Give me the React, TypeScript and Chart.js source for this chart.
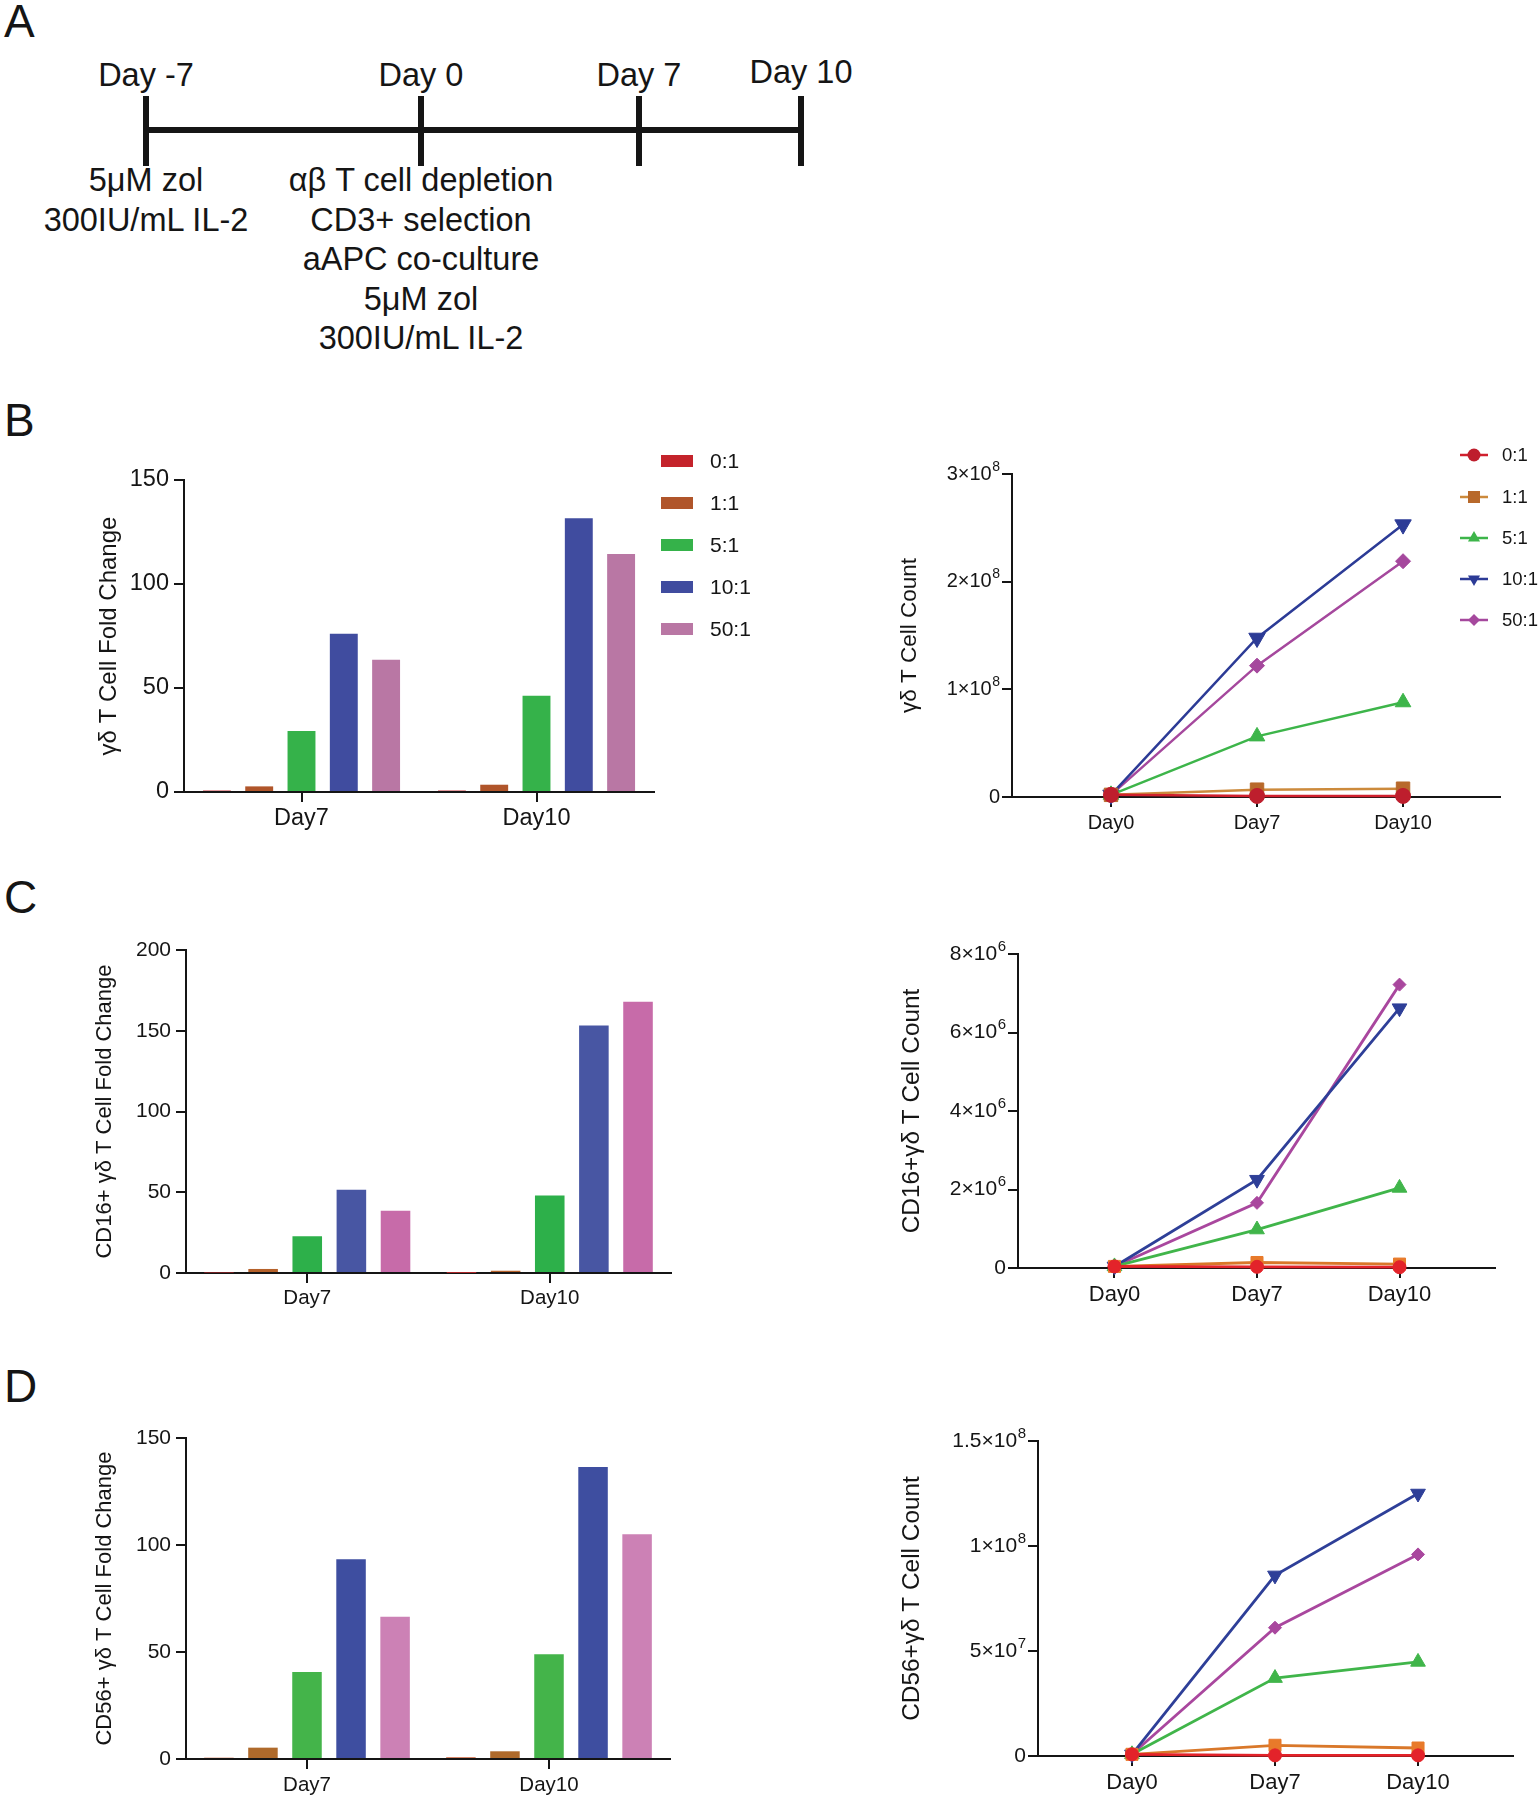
import React, { useEffect, useRef } from 'react';
import { Chart, registerables } from 'chart.js';

Chart.register(...registerables);

const FONT = "'Liberation Sans', Arial, Helvetica, sans-serif";
const INK = '#151515';
Chart.defaults.font.family = FONT;

// ---------------- Panel A (timeline) ----------------
const timelineDays = ['Day -7', 'Day 0', 'Day 7', 'Day 10'];
const dayMinus7Notes = ['5μM zol', '300IU/mL IL-2'];
const day0Notes = ['αβ T cell depletion', 'CD3+ selection', 'aAPC co-culture', '5μM zol', '300IU/mL IL-2'];

// ---------------- shared categories ----------------
const ratioLabels = ['0:1', '1:1', '5:1', '10:1', '50:1'];
const barDays = ['Day7', 'Day10'];
const lineDays = ['Day0', 'Day7', 'Day10'];
const lineDayIndex = [0, 1, 2];

// ---------------- Panel B ----------------
const gdFold01 = [0.7, 0.7];
const gdFold11 = [2.7, 3.5];
const gdFold51 = [29.3, 46.3];
const gdFold101 = [76.1, 131.6];
const gdFold501 = [63.6, 114.4];
const gdFoldTicks = [0, 50, 100, 150];

const gdCount01 = [2.0e6, 1.0e6, 1.0e6];
const gdCount11 = [2.0e6, 6.8e6, 7.7e6];
const gdCount51 = [2.0e6, 5.63e7, 8.8e7];
const gdCount101 = [2.0e6, 1.477e8, 2.53e8];
const gdCount501 = [2.0e6, 1.22e8, 2.19e8];
const gdCountTicks = [0, 1e8, 2e8, 3e8];
const gdCountTickLabels = ['0', '1×10^8', '2×10^8', '3×10^8'];

// ---------------- Panel C ----------------
const cd16Fold01 = [0.3, 0.1];
const cd16Fold11 = [2.5, 1.4];
const cd16Fold51 = [22.7, 48.0];
const cd16Fold101 = [51.5, 153.2];
const cd16Fold501 = [38.6, 168.0];
const cd16FoldTicks = [0, 50, 100, 150, 200];

const cd16Count01 = [4e4, 3e4, 2e4];
const cd16Count11 = [4e4, 1.4e5, 1.0e5];
const cd16Count51 = [4e4, 9.8e5, 2.04e6];
const cd16Count101 = [4e4, 2.25e6, 6.62e6];
const cd16Count501 = [4e4, 1.66e6, 7.22e6];
const cd16CountTicks = [0, 2e6, 4e6, 6e6, 8e6];
const cd16CountTickLabels = ['0', '2×10^6', '4×10^6', '6×10^6', '8×10^6'];

// ---------------- Panel D ----------------
const cd56Fold01 = [0.6, 0.8];
const cd56Fold11 = [5.3, 3.6];
const cd56Fold51 = [40.6, 49.0];
const cd56Fold101 = [93.3, 136.4];
const cd56Fold501 = [66.5, 105.0];
const cd56FoldTicks = [0, 50, 100, 150];

const cd56Count01 = [8e5, 3e5, 3e5];
const cd56Count11 = [8e5, 5.1e6, 3.8e6];
const cd56Count51 = [8e5, 3.71e7, 4.48e7];
const cd56Count101 = [8e5, 8.6e7, 1.25e8];
const cd56Count501 = [8e5, 6.11e7, 9.6e7];
const cd56CountTicks = [0, 5e7, 1e8, 1.5e8];
const cd56CountTickLabels = ['0', '5×10^7', '1×10^8', '1.5×10^8'];

// ---------------- styles ----------------
const barColorsB = ['#C4232B', '#B0552A', '#35B24A', '#404C9F', '#B977A4'];
const barColorsC = ['#C8282D', '#B5612A', '#2DB04A', '#4856A3', '#C76BA9'];
const barColorsD = ['#C9552D', '#AF6A2B', '#44B44A', '#3E4EA0', '#CC81B5'];

const lineColorsB = ['#D1202E', '#CC8A3C', '#3DB54A', '#2C3B96', '#A5489D'];
const markerColorsB = ['#BE1E2D', '#B8692B', '#3DB54A', '#2C3B96', '#A5489D'];
const lineColorsCD = ['#E3232A', '#D9782A', '#40B54A', '#2E3F98', '#A9479E'];
const markerColorsCD = ['#E3232A', '#E87A2A', '#40B54A', '#2E3F98', '#A9479E'];

const pointStyles = ['circle', 'rect', 'triangle', 'triangle', 'rectRot'];
const pointRotations = [0, 0, 0, 180, 0];
const radiiB = [7.5, 9.5, 9, 9.5, 7.5];
const radiiCD = [6.5, 8.5, 8.5, 8.5, 6.5];
const legendRadiiB = [6.5, 8.5, 7, 7, 6];

type Box = { x: number; y: number; w: number; h: number };
type Area = { l: number; t: number; r: number; b: number };

function gridOpts(tl: number, extra: any = {}) {
  return {
    display: true,
    drawOnChartArea: false,
    drawTicks: true,
    tickLength: tl,
    color: INK,
    lineWidth: 2,
    ...extra,
  };
}
const borderOpts = { display: true, color: INK, width: 2 };

function drawMarker(ctx: CanvasRenderingContext2D, style: string, x: number, y: number, r: number, rotDeg: number, fill: string) {
  ctx.beginPath();
  if (style === 'circle') {
    ctx.arc(x, y, r, 0, Math.PI * 2);
  } else if (style === 'rect') {
    const s = r * Math.SQRT1_2;
    ctx.rect(x - s, y - s, 2 * s, 2 * s);
  } else if (style === 'rectRot') {
    ctx.moveTo(x - r, y);
    ctx.lineTo(x, y - r);
    ctx.lineTo(x + r, y);
    ctx.lineTo(x, y + r);
    ctx.closePath();
  } else {
    let a = (rotDeg * Math.PI) / 180;
    ctx.moveTo(x + Math.sin(a) * r, y - Math.cos(a) * r);
    a += (2 * Math.PI) / 3;
    ctx.lineTo(x + Math.sin(a) * r, y - Math.cos(a) * r);
    a += (2 * Math.PI) / 3;
    ctx.lineTo(x + Math.sin(a) * r, y - Math.cos(a) * r);
    ctx.closePath();
  }
  ctx.fillStyle = fill;
  ctx.fill();
}

function barLegendPlugin(box: Box, colors: string[]) {
  return {
    id: 'barLegend',
    afterDraw(chart: any) {
      const ctx: CanvasRenderingContext2D = chart.ctx;
      ctx.save();
      ctx.font = `21px ${FONT}`;
      ctx.textBaseline = 'middle';
      ctx.textAlign = 'left';
      ratioLabels.forEach((lab, i) => {
        const cy = 461 + i * 42 - box.y;
        ctx.fillStyle = colors[i];
        ctx.fillRect(661 - box.x, cy - 6, 32, 12);
        ctx.fillStyle = INK;
        ctx.fillText(lab, 710 - box.x, cy + 1);
      });
      ctx.restore();
    },
  };
}

function lineLegendPlugin(box: Box, lineColors: string[], markerColors: string[]) {
  const rows = [455, 497, 538, 579, 620];
  return {
    id: 'lineLegend',
    afterDraw(chart: any) {
      const ctx: CanvasRenderingContext2D = chart.ctx;
      ctx.save();
      ctx.font = `18.5px ${FONT}`;
      ctx.textBaseline = 'middle';
      ctx.textAlign = 'left';
      ratioLabels.forEach((lab, i) => {
        const cy = rows[i] - box.y;
        ctx.strokeStyle = lineColors[i];
        ctx.lineWidth = 2.5;
        ctx.beginPath();
        ctx.moveTo(1460 - box.x, cy);
        ctx.lineTo(1488 - box.x, cy);
        ctx.stroke();
        drawMarker(ctx, pointStyles[i], 1474 - box.x, cy, legendRadiiB[i], pointRotations[i], markerColors[i]);
        ctx.fillStyle = INK;
        ctx.fillText(lab, 1502 - box.x, cy + 1);
      });
      ctx.restore();
    },
  };
}

// y tick labels of the count charts, with a real superscript exponent
function expTickPlugin(yTicks: number[], labels: string[], baseSize: number, supSize: number) {
  return {
    id: 'expTicks',
    afterDraw(chart: any) {
      const ctx: CanvasRenderingContext2D = chart.ctx;
      const ys = chart.scales.y;
      const xRight = ys.right - 10 - 2;
      ctx.save();
      ctx.fillStyle = INK;
      ctx.textBaseline = 'middle';
      ctx.textAlign = 'right';
      yTicks.forEach((v, i) => {
        const y = ys.getPixelForValue(v);
        const parts = labels[i].split('^');
        let x = xRight;
        if (parts.length > 1) {
          ctx.font = `${supSize}px ${FONT}`;
          ctx.fillText(parts[1], x, y - baseSize * 0.36);
          x -= ctx.measureText(parts[1]).width + 0.5;
        }
        ctx.font = `${baseSize}px ${FONT}`;
        ctx.fillText(parts[0], x, y);
      });
      ctx.restore();
    },
  };
}

type BarOpts = {
  box: Box;
  area: Area;
  series: number[][];
  colors: string[];
  yTicks: number[];
  yTitle: string;
  titleSize: number;
  titleX: number;
  yTickSize: number;
  xTickSize: number;
  xLabelY: number;
  barPct: number;
  catPct: number;
  legend?: boolean;
};

function makeBarConfig(o: BarOpts): any {
  const { box, area } = o;
  const tl = 10;
  return {
    type: 'bar',
    data: {
      labels: barDays,
      datasets: o.series.map((d, i) => ({
        label: ratioLabels[i],
        data: d,
        backgroundColor: o.colors[i],
        borderWidth: 0,
        barPercentage: o.barPct,
        categoryPercentage: o.catPct,
      })),
    },
    options: {
      responsive: false,
      maintainAspectRatio: false,
      animation: false,
      devicePixelRatio: 1,
      events: [],
      layout: { padding: { left: 0, top: area.t - box.y, right: box.x + box.w - area.r, bottom: 0 } },
      plugins: { legend: { display: false }, tooltip: { enabled: false }, title: { display: false } },
      scales: {
        x: {
          type: 'category',
          offset: true,
          grid: gridOpts(tl, { offset: false }),
          border: borderOpts,
          ticks: {
            font: { family: FONT, size: o.xTickSize },
            color: INK,
            padding: o.xLabelY - area.b - tl - o.xTickSize * 0.6,
            maxRotation: 0,
            autoSkip: false,
          },
          afterFit: (s: any) => {
            s.height = box.y + box.h - area.b;
          },
        },
        y: {
          type: 'linear',
          min: o.yTicks[0],
          max: o.yTicks[o.yTicks.length - 1],
          grid: gridOpts(tl),
          border: borderOpts,
          ticks: {
            font: { family: FONT, size: o.yTickSize },
            color: INK,
            padding: 5,
            callback: (v: number) => String(v),
          },
          afterBuildTicks: (s: any) => {
            s.ticks = o.yTicks.map((v) => ({ value: v }));
          },
          afterFit: (s: any) => {
            s.width = area.l - box.x;
          },
          title: {
            display: true,
            text: o.yTitle,
            color: INK,
            font: { family: FONT, size: o.titleSize },
            padding: { top: o.titleX - box.x - o.titleSize * 0.6, bottom: 0 },
          },
        },
      },
    },
    plugins: o.legend ? [barLegendPlugin(box, o.colors)] : [],
  };
}

type LineOpts = {
  box: Box;
  area: Area;
  series: number[][];
  lineColors: string[];
  markerColors: string[];
  radii: number[];
  yTicks: number[];
  yTickLabels: string[];
  yTitle: string;
  titleSize: number;
  titleX: number;
  yTickSize: number;
  supSize: number;
  xTickSize: number;
  xLabelY: number;
  xMin: number;
  xMax: number;
  lineWidth: number;
  legend?: boolean;
};

function makeLineConfig(o: LineOpts): any {
  const { box, area } = o;
  const tl = 10;
  const plugins: any[] = [expTickPlugin(o.yTicks, o.yTickLabels, o.yTickSize, o.supSize)];
  if (o.legend) plugins.push(lineLegendPlugin(box, o.lineColors, o.markerColors));
  return {
    type: 'line',
    data: {
      datasets: o.series.map((d, i) => ({
        label: ratioLabels[i],
        data: d.map((v, j) => ({ x: lineDayIndex[j], y: v })),
        borderColor: o.lineColors[i],
        backgroundColor: o.markerColors[i],
        pointBackgroundColor: o.markerColors[i],
        pointBorderColor: o.markerColors[i],
        pointBorderWidth: 1,
        pointStyle: pointStyles[i],
        pointRotation: pointRotations[i],
        pointRadius: o.radii[i],
        borderWidth: o.lineWidth,
        tension: 0,
        fill: false,
        clip: false,
      })),
    },
    options: {
      responsive: false,
      maintainAspectRatio: false,
      animation: false,
      devicePixelRatio: 1,
      events: [],
      layout: { padding: { left: 0, top: area.t - box.y, right: box.x + box.w - area.r, bottom: 0 } },
      plugins: { legend: { display: false }, tooltip: { enabled: false }, title: { display: false } },
      scales: {
        x: {
          type: 'linear',
          min: o.xMin,
          max: o.xMax,
          grid: gridOpts(tl),
          border: borderOpts,
          ticks: {
            font: { family: FONT, size: o.xTickSize },
            color: INK,
            padding: o.xLabelY - area.b - tl - o.xTickSize * 0.6,
            maxRotation: 0,
            autoSkip: false,
            callback: (v: number) => {
              const k = lineDayIndex.indexOf(v);
              return k >= 0 ? lineDays[k] : '';
            },
          },
          afterBuildTicks: (s: any) => {
            s.ticks = lineDayIndex.map((v) => ({ value: v }));
          },
          afterFit: (s: any) => {
            s.height = box.y + box.h - area.b;
          },
        },
        y: {
          type: 'linear',
          min: o.yTicks[0],
          max: o.yTicks[o.yTicks.length - 1],
          grid: gridOpts(tl),
          border: borderOpts,
          ticks: { display: false },
          afterBuildTicks: (s: any) => {
            s.ticks = o.yTicks.map((v) => ({ value: v }));
          },
          afterFit: (s: any) => {
            s.width = area.l - box.x;
          },
          title: {
            display: true,
            text: o.yTitle,
            color: INK,
            font: { family: FONT, size: o.titleSize },
            padding: { top: o.titleX - box.x - o.titleSize * 0.6, bottom: 0 },
          },
        },
      },
    },
    plugins,
  };
}

function ChartCanvas({ box, config }: { box: Box; config: () => any }) {
  const ref = useRef<HTMLCanvasElement>(null);
  useEffect(() => {
    const chart = new Chart(ref.current as HTMLCanvasElement, config());
    return () => chart.destroy();
  }, []);
  return (
    <canvas
      ref={ref}
      width={box.w}
      height={box.h}
      style={{ position: 'absolute', left: box.x, top: box.y, width: box.w, height: box.h }}
    />
  );
}

function PanelLetter({ text, x, capTop }: { text: string; x: number; capTop: number }) {
  return (
    <div
      style={{
        position: 'absolute',
        left: x,
        top: capTop - 6,
        fontFamily: FONT,
        fontSize: 46,
        lineHeight: '46px',
        color: INK,
      }}
    >
      {text}
    </div>
  );
}

function CenteredText({ lines, cx, firstY, size, lh }: { lines: string[]; cx: number; firstY: number; size: number; lh: number }) {
  return (
    <div
      style={{
        position: 'absolute',
        left: cx - 250,
        width: 500,
        top: firstY - lh / 2,
        textAlign: 'center',
        fontFamily: FONT,
        fontSize: size,
        lineHeight: `${lh}px`,
        whiteSpace: 'nowrap',
        color: INK,
      }}
    >
      {lines.map((l, i) => (
        <div key={i}>{l}</div>
      ))}
    </div>
  );
}

function PanelA() {
  const tickX = [146, 421, 639, 801];
  const labelY = [75, 75, 75, 72];
  return (
    <>
      <div style={{ position: 'absolute', left: tickX[0], top: 127, width: tickX[3] - tickX[0], height: 6, background: INK }} />
      {tickX.map((x, i) => (
        <div key={i} style={{ position: 'absolute', left: x - 3, top: 96, width: 6, height: 70, background: INK }} />
      ))}
      {timelineDays.map((d, i) => (
        <CenteredText key={d} lines={[d]} cx={tickX[i]} firstY={labelY[i]} size={32.5} lh={39} />
      ))}
      <CenteredText lines={dayMinus7Notes} cx={tickX[0]} firstY={181} size={32.5} lh={39.5} />
      <CenteredText lines={day0Notes} cx={tickX[1]} firstY={181} size={32.5} lh={39.5} />
    </>
  );
}

const boxBarB: Box = { x: 40, y: 440, w: 730, h: 410 };
const boxLineB: Box = { x: 880, y: 420, w: 660, h: 430 };
const boxBarC: Box = { x: 40, y: 900, w: 730, h: 420 };
const boxLineC: Box = { x: 880, y: 900, w: 660, h: 420 };
const boxBarD: Box = { x: 40, y: 1390, w: 730, h: 410 };
const boxLineD: Box = { x: 880, y: 1390, w: 660, h: 410 };

export default function App() {
  return (
    <div
      style={{
        position: 'absolute',
        left: 0,
        top: 0,
        width: 1540,
        height: 1800,
        overflow: 'hidden',
        background: '#fff',
      }}
    >
      <PanelLetter text="A" x={4} capTop={4} />
      <PanelA />

      <PanelLetter text="B" x={4} capTop={403} />
      <ChartCanvas
        box={boxBarB}
        config={() =>
          makeBarConfig({
            box: boxBarB,
            area: { l: 184, t: 480, r: 654, b: 792 },
            series: [gdFold01, gdFold11, gdFold51, gdFold101, gdFold501],
            colors: barColorsB,
            yTicks: gdFoldTicks,
            yTitle: 'γδ T Cell Fold Change',
            titleSize: 24,
            titleX: 109,
            yTickSize: 23.5,
            xTickSize: 23.5,
            xLabelY: 819,
            barPct: 0.66,
            catPct: 0.9,
            legend: true,
          })
        }
      />
      <ChartCanvas
        box={boxLineB}
        config={() =>
          makeLineConfig({
            box: boxLineB,
            area: { l: 1012, t: 474, r: 1500, b: 797 },
            series: [gdCount01, gdCount11, gdCount51, gdCount101, gdCount501],
            lineColors: lineColorsB,
            markerColors: markerColorsB,
            radii: radiiB,
            yTicks: gdCountTicks,
            yTickLabels: gdCountTickLabels,
            yTitle: 'γδ T Cell Count',
            titleSize: 22.5,
            titleX: 910,
            yTickSize: 20,
            supSize: 14,
            xTickSize: 20,
            xLabelY: 823,
            xMin: -0.678,
            xMax: 2.664,
            lineWidth: 2.5,
            legend: true,
          })
        }
      />

      <PanelLetter text="C" x={4} capTop={880} />
      <ChartCanvas
        box={boxBarC}
        config={() =>
          makeBarConfig({
            box: boxBarC,
            area: { l: 186, t: 950, r: 671, b: 1273 },
            series: [cd16Fold01, cd16Fold11, cd16Fold51, cd16Fold101, cd16Fold501],
            colors: barColorsC,
            yTicks: cd16FoldTicks,
            yTitle: 'CD16+ γδ T Cell Fold Change',
            titleSize: 22,
            titleX: 105,
            yTickSize: 21,
            xTickSize: 20.5,
            xLabelY: 1298,
            barPct: 0.67,
            catPct: 0.91,
          })
        }
      />
      <ChartCanvas
        box={boxLineC}
        config={() =>
          makeLineConfig({
            box: boxLineC,
            area: { l: 1018, t: 954, r: 1495, b: 1268 },
            series: [cd16Count01, cd16Count11, cd16Count51, cd16Count101, cd16Count501],
            lineColors: lineColorsCD,
            markerColors: markerColorsCD,
            radii: radiiCD,
            yTicks: cd16CountTicks,
            yTickLabels: cd16CountTickLabels,
            yTitle: 'CD16+γδ T Cell Count',
            titleSize: 24.4,
            titleX: 912,
            yTickSize: 21,
            supSize: 15,
            xTickSize: 22,
            xLabelY: 1295,
            xMin: -0.677,
            xMax: 2.67,
            lineWidth: 2.8,
          })
        }
      />

      <PanelLetter text="D" x={4} capTop={1369} />
      <ChartCanvas
        box={boxBarD}
        config={() =>
          makeBarConfig({
            box: boxBarD,
            area: { l: 186, t: 1438, r: 670, b: 1759 },
            series: [cd56Fold01, cd56Fold11, cd56Fold51, cd56Fold101, cd56Fold501],
            colors: barColorsD,
            yTicks: cd56FoldTicks,
            yTitle: 'CD56+ γδ T Cell Fold Change',
            titleSize: 22,
            titleX: 105,
            yTickSize: 21,
            xTickSize: 20.5,
            xLabelY: 1785,
            barPct: 0.67,
            catPct: 0.91,
          })
        }
      />
      <ChartCanvas
        box={boxLineD}
        config={() =>
          makeLineConfig({
            box: boxLineD,
            area: { l: 1038, t: 1441, r: 1513, b: 1756 },
            series: [cd56Count01, cd56Count11, cd56Count51, cd56Count101, cd56Count501],
            lineColors: lineColorsCD,
            markerColors: markerColorsCD,
            radii: radiiCD,
            yTicks: cd56CountTicks,
            yTickLabels: cd56CountTickLabels,
            yTitle: 'CD56+γδ T Cell Count',
            titleSize: 24.4,
            titleX: 912,
            yTickSize: 21,
            supSize: 15,
            xTickSize: 22,
            xLabelY: 1783,
            xMin: -0.657,
            xMax: 2.664,
            lineWidth: 2.8,
          })
        }
      />
    </div>
  );
}
